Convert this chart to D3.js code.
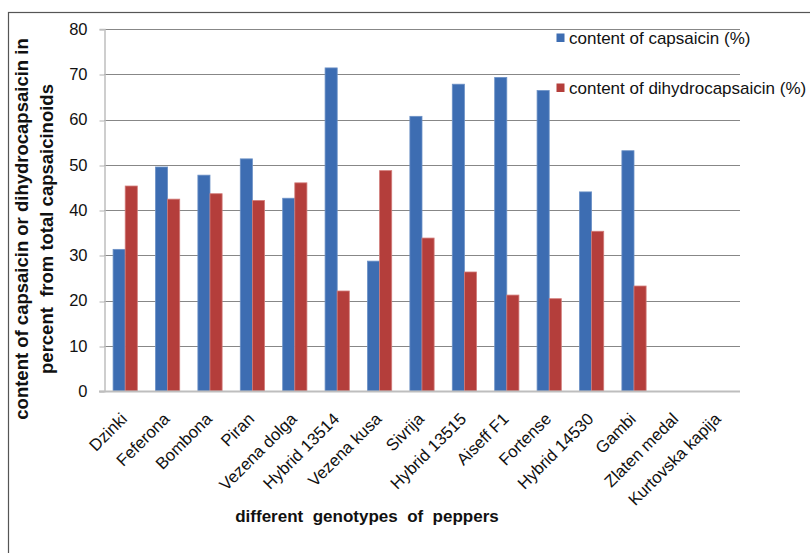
<!DOCTYPE html>
<html>
<head>
<meta charset="utf-8">
<script src="https://cdn.jsdelivr.net/npm/d3@7"></script>
<style>
  html, body { margin: 0; padding: 0; background: #fff; }
  svg { display: block; font-family: "Liberation Sans", Arial, sans-serif; }
</style>
</head>
<body>
<svg id="chart" width="810" height="553"></svg>
<script>
// Pepper genotypes and their capsaicinoid composition (% of total)
const genotypes = ["Dzinki", "Feferona", "Bombona", "Piran", "Vezena dolga", "Hybrid 13514",
  "Vezena kusa", "Sivrija", "Hybrid 13515", "Aiseff F1", "Fortense", "Hybrid 14530",
  "Gambi", "Zlaten medal", "Kurtovska kapija"];
const capsaicin = [31.3, 49.5, 47.7, 51.3, 42.6, 71.4, 28.7, 60.7, 67.8, 69.3, 66.4, 44.0, 53.1, 0, 0];
const dihydrocapsaicin = [45.3, 42.4, 43.6, 42.1, 46.0, 22.1, 48.7, 33.8, 26.3, 21.2, 20.4, 35.3, 23.2, 0, 0];
const seriesNames = ["content of capsaicin (%)", "content of dihydrocapsaicin (%)"];
const yTicks = [0, 10, 20, 30, 40, 50, 60, 70, 80];

const colors = ["#3D6DB2", "#B43E3B"];
const strokes = ["#6C91C6", "#D27C79"];

const svg = d3.select("#chart");
const plot = { left: 104, right: 740, top: 29, bottom: 391 };

// outer chart frame (right and bottom edges run past the page)
svg.append("rect")
  .attr("x", 8.5).attr("y", 12.5)
  .attr("width", 900).attr("height", 700)
  .attr("fill", "none").attr("stroke", "#555").attr("stroke-width", 1.2);

const y = d3.scaleLinear().domain([0, 80]).range([plot.bottom, plot.top]);

// 150% gap between groups: two bars per 3.5 bar-widths
const gap = 1.5 / 3.5;
const x0 = d3.scaleBand().domain(genotypes).range([plot.left, plot.right])
  .paddingInner(gap).paddingOuter(gap / 2);
const x1 = d3.scaleBand().domain([0, 1]).range([0, x0.bandwidth()]);

// horizontal gridlines
svg.append("g")
  .selectAll("line")
  .data(yTicks.filter(t => t > 0))
  .join("line")
  .attr("x1", plot.left).attr("x2", plot.right)
  .attr("y1", d => Math.round(y(d)) + 0.5).attr("y2", d => Math.round(y(d)) + 0.5)
  .attr("stroke", "#878787").attr("stroke-width", 1);

// y axis
const yAxis = d3.axisLeft(y).tickValues(yTicks).tickSize(5).tickPadding(12).tickFormat(d3.format("d"));
const gy = svg.append("g").attr("transform", `translate(${plot.left + 0.5},0)`).call(yAxis);
gy.select(".domain").attr("stroke", "#BEBEBE").attr("stroke-width", 1.5);
gy.selectAll(".tick line").attr("stroke", "#BEBEBE").attr("stroke-width", 1.2)
  .attr("transform", d => `translate(0,${Math.round(y(d)) + 0.5 - y(d)})`);
gy.selectAll(".tick text").attr("font-size", 16.5).attr("fill", "#111")
  .attr("font-family", "'Liberation Sans', Arial, sans-serif");

// bars
const rows = genotypes.map((g, i) => ({ g, vals: [capsaicin[i], dihydrocapsaicin[i]] }));
svg.append("g")
  .selectAll("g")
  .data(rows)
  .join("g")
  .attr("transform", d => `translate(${x0(d.g)},0)`)
  .selectAll("rect")
  .data(d => d.vals.map((v, k) => ({ v, k })))
  .join("rect")
  .attr("x", d => x1(d.k))
  .attr("width", x1.bandwidth())
  .attr("y", d => y(d.v))
  .attr("height", d => y(0) - y(d.v))
  .attr("fill", d => colors[d.k])
  .attr("stroke", d => d.v > 0 ? strokes[d.k] : "none")
  .attr("stroke-width", 0.8);

// x axis line
svg.append("line")
  .attr("x1", plot.left - 5).attr("x2", plot.right)
  .attr("y1", plot.bottom + 0.5).attr("y2", plot.bottom + 0.5)
  .attr("stroke", "#BEBEBE").attr("stroke-width", 1.8);

// category labels, rotated
const xAxis = d3.axisBottom(x0).tickSize(0).tickPadding(0);
const gx = svg.append("g").attr("transform", `translate(0,${plot.bottom})`).call(xAxis);
gx.select(".domain").remove();
gx.selectAll(".tick text")
  .attr("font-size", 16.7).attr("fill", "#111")
  .attr("font-family", "'Liberation Sans', Arial, sans-serif")
  .attr("text-anchor", "end")
  .attr("dy", null).attr("y", null)
  .attr("transform", "translate(3,29) rotate(-45)");

// axis titles
svg.append("text")
  .attr("x", 367).attr("y", 522)
  .attr("text-anchor", "middle")
  .attr("font-size", 17).attr("font-weight", "bold").attr("fill", "#111")
  .attr("xml:space", "preserve")
  .text("different  genotypes  of  peppers");

const yTitle = svg.append("text")
  .attr("transform", "translate(0,229) rotate(-90)")
  .attr("text-anchor", "middle")
  .attr("font-size", 18.5).attr("font-weight", "bold").attr("fill", "#111")
  .attr("xml:space", "preserve");
yTitle.append("tspan").attr("x", 0).attr("y", 28).text("content of capsaicin or dihydrocapsaicin in");
yTitle.append("tspan").attr("x", 0).attr("y", 53).text("percent  from total capsaicinoids");

// legend
const legend = svg.append("g");
const legendY = [44, 94];
seriesNames.forEach((name, k) => {
  legend.append("rect")
    .attr("x", 556.5).attr("y", legendY[k] - 10.5)
    .attr("width", 8).attr("height", 8.5)
    .attr("fill", colors[k]);
  legend.append("text")
    .attr("x", 569).attr("y", legendY[k])
    .attr("font-size", 17).attr("fill", "#111")
    .text(name);
});
</script>
</body>
</html>
